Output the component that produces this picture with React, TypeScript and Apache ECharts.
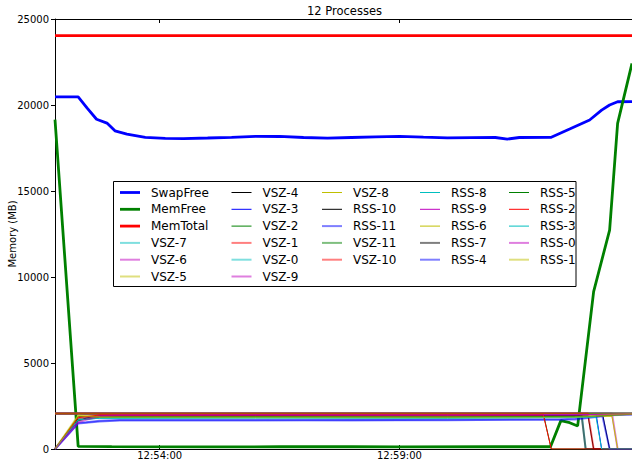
import { useEffect, useRef } from "react";
import * as echarts from "echarts";

type Pt = [string, number];

const FONT = "DejaVu Sans";

const chartTitle = "12 Processes";
const yAxisName = "Memory (MB)";
const xStart = "12:51:49";
const xEnd = "13:03:51";
const xTickLabels = ["12:54:00", "12:59:00"];
const yMin = 0;
const yMax = 25000;
const yStep = 5000;

// System memory counters
const swapFree: Pt[] = [
  ["12:51:49", 20475], ["12:52:18", 20475], ["12:52:29", 19830], ["12:52:41", 19170],
  ["12:52:54", 18950], ["12:53:04", 18500], ["12:53:19", 18310], ["12:53:42", 18120],
  ["12:54:07", 18060], ["12:54:30", 18050], ["12:55:00", 18080], ["12:55:30", 18120],
  ["12:56:00", 18180], ["12:56:30", 18170], ["12:57:00", 18110], ["12:57:30", 18070],
  ["12:58:00", 18110], ["12:58:30", 18150], ["12:59:00", 18180], ["12:59:30", 18130],
  ["13:00:00", 18090], ["13:00:30", 18100], ["13:01:00", 18110], ["13:01:15", 18020],
  ["13:01:30", 18110], ["13:02:10", 18120], ["13:02:33", 18600], ["13:02:58", 19130],
  ["13:03:13", 19700], ["13:03:23", 20000], ["13:03:33", 20190], ["13:03:51", 20200],
];
const memFree: Pt[] = [
  ["12:51:49", 19150], ["12:52:18", 150], ["12:53:00", 140], ["12:55:00", 120],
  ["12:56:30", 130], ["12:58:00", 140], ["12:59:00", 120], ["13:01:00", 130],
  ["13:02:09", 130], ["13:02:22", 1650], ["13:02:33", 1530], ["13:02:43", 1340],
  ["13:03:03", 9150], ["13:03:23", 12730], ["13:03:33", 18930], ["13:03:51", 22420],
];
const memTotal: Pt[] = [["12:51:49", 24030], ["13:03:51", 24030]];

// Virtual size per worker process
const vsz7: Pt[] = [["12:51:49", 2060], ["13:02:48", 2060], ["13:02:53", 0], ["13:03:51", 0]];
const vsz6: Pt[] = [["12:51:49", 2065], ["13:03:26", 2065], ["13:03:33", 0], ["13:03:51", 0]];
const vsz5: Pt[] = [["12:51:49", 2060], ["13:03:51", 2060]];
const vsz4: Pt[] = [["12:51:49", 2060], ["13:03:14", 2060], ["13:03:23", 0], ["13:03:51", 0]];
const vsz3: Pt[] = [["12:51:49", 2060], ["13:03:06", 2060], ["13:03:13", 0], ["13:03:51", 0]];
const vsz2: Pt[] = [["12:51:49", 2060], ["13:02:00", 2060], ["13:02:10", 0], ["13:03:51", 0]];
const vsz1: Pt[] = [["12:51:49", 2060], ["13:03:51", 2060]];
const vsz0: Pt[] = [["12:51:49", 2060], ["13:03:51", 2060]];
const vsz9: Pt[] = [["12:51:49", 2065], ["13:03:51", 2065]];
const vsz8: Pt[] = [["12:51:49", 2060], ["13:03:51", 2060]];
const vsz11: Pt[] = [["12:51:49", 2060], ["13:03:51", 2060]];
const vsz10: Pt[] = [["12:51:49", 2060], ["13:02:56", 2060], ["13:03:03", 0], ["13:03:51", 0]];

// Resident set size per worker process
const rss10: Pt[] = [
  ["12:51:49", 0], ["12:52:18", 1880], ["12:52:45", 1920], ["12:56:00", 1930],
  ["13:00:00", 1925], ["13:02:56", 1930], ["13:03:03", 0], ["13:03:51", 0],
];
const rss11: Pt[] = [
  ["12:51:49", 0], ["12:52:18", 1520], ["12:52:28", 1560], ["12:52:45", 1640],
  ["12:53:10", 1680], ["12:56:00", 1690], ["12:58:00", 1670], ["13:00:00", 1700],
  ["13:02:20", 1720], ["13:02:40", 1780], ["13:03:20", 1960], ["13:03:51", 1990],
];
const rss8: Pt[] = [
  ["12:51:49", 0], ["12:52:18", 1700], ["12:52:45", 1790], ["12:56:00", 1810],
  ["13:00:00", 1800], ["13:02:40", 1830], ["13:03:30", 1990], ["13:03:51", 2020],
];
const rss9: Pt[] = [
  ["12:51:49", 0], ["12:52:18", 1620], ["12:52:28", 1800], ["12:52:45", 1950],
  ["12:56:00", 1970], ["13:00:00", 1975], ["13:03:00", 1990], ["13:03:51", 2030],
];
const rss6: Pt[] = [
  ["12:51:49", 0], ["12:52:18", 1930], ["12:52:45", 1880], ["12:56:00", 1880],
  ["13:00:00", 1870], ["13:03:26", 1900], ["13:03:33", 0], ["13:03:51", 0],
];
const rss7: Pt[] = [
  ["12:51:49", 0], ["12:52:18", 1760], ["12:52:45", 1890], ["12:56:00", 1900],
  ["13:00:00", 1890], ["13:02:48", 1920], ["13:02:53", 0], ["13:03:51", 0],
];
const rss4: Pt[] = [
  ["12:51:49", 0], ["12:52:18", 1480], ["12:52:28", 1530], ["12:52:45", 1600],
  ["12:53:10", 1650], ["12:56:00", 1660], ["12:58:00", 1680], ["13:00:00", 1670],
  ["13:02:40", 1720], ["13:03:14", 1900], ["13:03:23", 0], ["13:03:51", 0],
];
const rss5: Pt[] = [
  ["12:51:49", 0], ["12:52:18", 1660], ["12:52:45", 1850], ["12:56:00", 1860],
  ["13:00:00", 1855], ["13:03:00", 1900], ["13:03:51", 2020],
];
const rss2: Pt[] = [
  ["12:51:49", 0], ["12:52:18", 1820], ["12:52:45", 1980], ["12:56:00", 1985],
  ["13:01:00", 1985], ["13:02:00", 1990], ["13:02:10", 0], ["13:03:51", 0],
];
const rss3: Pt[] = [
  ["12:51:49", 0], ["12:52:18", 1690], ["12:52:45", 1790], ["12:56:00", 1800],
  ["13:00:00", 1790], ["13:03:06", 1850], ["13:03:13", 0], ["13:03:51", 0],
];
const rss0: Pt[] = [
  ["12:51:49", 0], ["12:52:18", 1540], ["12:52:28", 1700], ["12:52:45", 1900],
  ["12:53:10", 1960], ["12:56:00", 1970], ["13:00:00", 1965], ["13:03:00", 1990],
  ["13:03:51", 2030],
];
const rss1: Pt[] = [
  ["12:51:49", 0], ["12:52:18", 1950], ["12:52:45", 1860], ["12:56:00", 1850],
  ["13:00:00", 1845], ["13:02:40", 1860], ["13:03:30", 1990], ["13:03:51", 2030],
];

// Plot order (also legend order, filled column by column)
const seriesData: [string, Pt[]][] = [
  ["SwapFree", swapFree], ["MemFree", memFree], ["MemTotal", memTotal],
  ["VSZ-7", vsz7], ["VSZ-6", vsz6], ["VSZ-5", vsz5], ["VSZ-4", vsz4],
  ["VSZ-3", vsz3], ["VSZ-2", vsz2], ["VSZ-1", vsz1], ["VSZ-0", vsz0],
  ["VSZ-9", vsz9], ["VSZ-8", vsz8], ["RSS-10", rss10], ["RSS-11", rss11],
  ["VSZ-11", vsz11], ["VSZ-10", vsz10], ["RSS-8", rss8], ["RSS-9", rss9],
  ["RSS-6", rss6], ["RSS-7", rss7], ["RSS-4", rss4], ["RSS-5", rss5],
  ["RSS-2", rss2], ["RSS-3", rss3], ["RSS-0", rss0], ["RSS-1", rss1],
];
const legendColumnSizes = [6, 6, 5, 5, 5];

// Line styles: colour cycle + weight ("bold", "thin", "soft" = wide translucent)
const CYCLE = ["#0000ff", "#008000", "#ff0000", "#00bfbf", "#bf00bf", "#bfbf00", "#000000"];
const softNames = new Set([
  "VSZ-7", "VSZ-6", "VSZ-5", "VSZ-1", "VSZ-0", "VSZ-9", "RSS-11",
  "VSZ-11", "VSZ-10", "RSS-7", "RSS-4", "RSS-0", "RSS-1",
]);
const boldNames = new Set(["SwapFree", "MemFree", "MemTotal"]);

function lineStyleFor(name: string, idx: number) {
  const color = CYCLE[idx % CYCLE.length];
  if (boldNames.has(name)) return { color, width: 2.8, opacity: 1 };
  if (softNames.has(name)) return { color, width: 2, opacity: 0.5 };
  return { color, width: 1, opacity: 1 };
}

// Legend handle: a bar as wide as the handle and as tall as the line
const handleIcon = (w: number) => `path://M0,0H20V${w}H0Z`;

const toSec = (t: string) => {
  const [h, m, s] = t.split(":").map(Number);
  return h * 3600 + m * 60 + s;
};
const fmtSec = (v: number) => {
  const h = Math.floor(v / 3600);
  const m = Math.floor((v % 3600) / 60);
  const s = Math.round(v % 60);
  return [h, m, s].map((n) => String(n).padStart(2, "0")).join(":");
};

export default function App() {
  const ref = useRef<HTMLDivElement>(null);

  useEffect(() => {
    if (!ref.current) return;
    const chart = echarts.init(ref.current, undefined, { renderer: "svg" });

    const tickVals = xTickLabels.map(toSec);
    const series = seriesData.map(([name, pts], i) => {
      const ls = lineStyleFor(name, i);
      return {
        type: "line",
        name,
        data: pts.map(([t, v]) => [toSec(t), v]),
        symbol: "none",
        showSymbol: false,
        silent: true,
        z: 2,
        itemStyle: { color: ls.color, opacity: ls.opacity },
        lineStyle: { color: ls.color, width: ls.width, opacity: ls.opacity },
      };
    });

    const colLefts = [120, 231.5, 322, 420, 509];
    const legends: any[] = [];
    let k = 0;
    legendColumnSizes.forEach((n, c) => {
      const items = seriesData.slice(k, k + n).map(([nm], j) => {
        const ls = lineStyleFor(nm, k + j);
        return {
          name: nm,
          icon: handleIcon(ls.width),
          itemStyle: { color: ls.color, opacity: ls.opacity, borderWidth: 0 },
        };
      });
      k += n;
      legends.push({
        orient: "vertical",
        left: colLefts[c],
        top: 185.5,
        padding: 0,
        itemWidth: 20,
        itemHeight: 14,
        itemGap: 2.8,
        selectedMode: false,
        symbolKeepAspect: true,
        z: 4,
        textStyle: {
          fontFamily: FONT,
          fontSize: 12,
          color: "#000",
          lineHeight: 14,
          padding: [0, 0, 0, 6],
        },
        data: items,
      });
    });

    const axisText = { fontFamily: FONT, fontSize: 10, color: "#000" };

    chart.setOption({
      animation: false,
      backgroundColor: "#fff",
      title: {
        text: chartTitle,
        left: 307,
        top: 5,
        padding: 0,
        textStyle: { fontFamily: FONT, fontSize: 11.5, fontWeight: "normal", color: "#000" },
      },
      grid: {
        left: 55,
        right: 0,
        top: 19,
        bottom: 12,
        containLabel: false,
        outerBoundsMode: "none",
      },
      legend: legends,
      xAxis: [
        {
          type: "value",
          position: "bottom",
          min: toSec(xStart),
          max: toSec(xEnd),
          axisLine: { show: true, onZero: false, lineStyle: { color: "#000", width: 1 } },
          axisTick: { show: true, inside: true, length: 4, customValues: tickVals, lineStyle: { color: "#000" } },
          axisLabel: { ...axisText, margin: 1.5, customValues: tickVals, formatter: (v: number) => fmtSec(v) },
          splitLine: { show: false },
        },
        {
          type: "value",
          position: "top",
          min: toSec(xStart),
          max: toSec(xEnd),
          axisLine: { show: true, onZero: false, lineStyle: { color: "#000", width: 1 } },
          axisTick: { show: true, inside: true, length: 4, customValues: tickVals, lineStyle: { color: "#000" } },
          axisLabel: { show: false },
          splitLine: { show: false },
        },
      ],
      yAxis: {
        type: "value",
        min: yMin,
        max: yMax,
        interval: yStep,
        name: yAxisName,
        nameLocation: "middle",
        nameGap: 38,
        nameMoveOverlap: false,
        nameTextStyle: axisText,
        axisLine: { show: true, lineStyle: { color: "#000", width: 1 } },
        axisTick: { show: true, inside: false, length: 4, lineStyle: { color: "#000" } },
        axisLabel: { ...axisText, margin: 6, formatter: (v: number) => String(v) },
        splitLine: { show: false },
      },
      graphic: [
        {
          type: "rect",
          z: 3,
          shape: { x: 113.5, y: 181.5, width: 462.5, height: 105 },
          style: { fill: "#fff", stroke: "#000", lineWidth: 1 },
          silent: true,
        },
      ],
      series,
    });

    return () => chart.dispose();
  }, []);

  return (
    <div
      ref={ref}
      style={{ position: "fixed", left: 0, top: 0, width: 632, height: 461 }}
    />
  );
}
